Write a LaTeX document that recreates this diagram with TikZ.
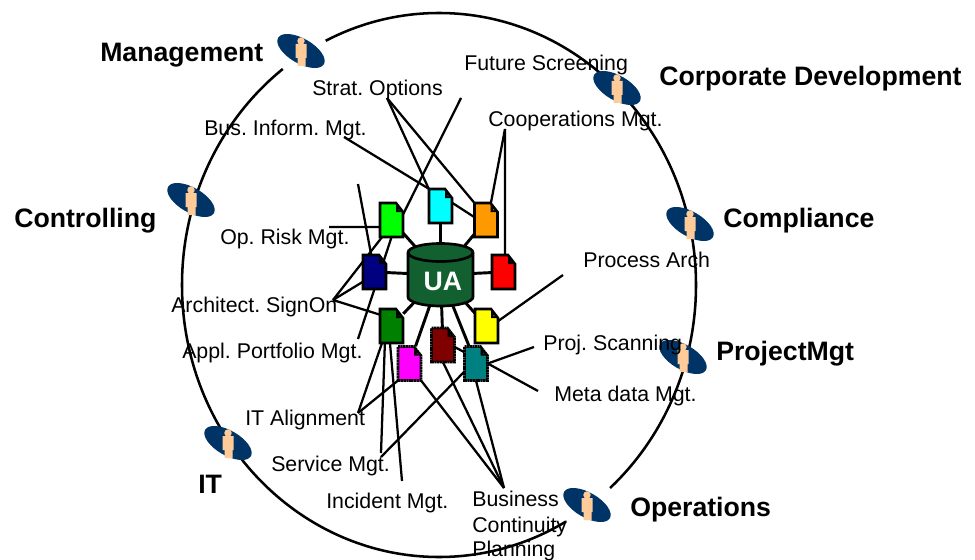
\documentclass[tikz,border=0pt]{standalone}
\usepackage{fontspec}
\setmainfont{Liberation Sans}
\usetikzlibrary{shapes.geometric}
\definecolor{iconblue}{RGB}{0,51,102}
\definecolor{skin}{RGB}{255,204,153}
\definecolor{dbgreen}{RGB}{18,96,48}
\definecolor{dlime}{RGB}{0,255,0}
\definecolor{dcyan}{RGB}{0,255,255}
\definecolor{dred}{RGB}{255,0,0}
\definecolor{dyellow}{RGB}{255,255,0}
\definecolor{dmagenta}{RGB}{255,0,255}
\definecolor{dorange}{RGB}{255,153,0}
\definecolor{dnavy}{RGB}{0,0,128}
\definecolor{dgreen}{RGB}{0,128,0}
\definecolor{dmaroon}{RGB}{128,0,0}
\definecolor{dteal}{RGB}{0,128,128}
\tikzset{
  ring/.style={line width=1.9pt,draw=black},
  halo/.style={fill=white,draw=none},
  iconshape/.style={ellipse,fill=iconblue,draw=none,minimum width=39.6pt,minimum height=18.6pt,inner sep=0pt,rotate=-30},
  docbase/.style={rectangle,draw=none,fill=none,minimum width=17.25pt,minimum height=25.5pt,inner sep=0pt},
  docline/.style={line width=1.9pt,draw=black,line join=miter},
  docdash/.style={docline,dash pattern=on 1.6pt off .35pt},
  hub/.style={line width=2.2pt,draw=black},
  link/.style={line width=1.7pt,draw=black},
  role/.style={anchor=base west,inner sep=0pt,font=\fontsize{20}{24}\selectfont\bfseries},
  lab/.style={anchor=base west,inner sep=0pt,font=\fontsize{16}{19.5}\selectfont},
  store/.style={line width=2pt,draw=black,fill=dbgreen},
  storetext/.style={inner sep=0pt,text=white,font=\fontsize{20}{24}\selectfont\bfseries}
}
\newcommand{\roleicon}[3]{%
  \node[iconshape] (#1) at (#2,#3) {};
  \begin{scope}[shift={(#1.center)}]
    \fill[skin] (0,-10) circle[radius=2.8pt];
    \fill[skin] (-5.5,-7) -- (5.5,-7) -- (5.5,7) -- (4.5,7) -- (4.5,15) -- (-3.5,15) -- (-3.5,7) -- (-5.5,7) -- cycle;
  \end{scope}}
\newcommand{\docplace}[3]{\node[docbase] (#1) at (#2,#3) {};}
\newcommand{\docdraw}[3][docline]{%
  \begin{scope}[shift={(#2.center)}]
    \path[fill=#3] (-11.5,-17) -- (4.5,-17) -- (11.5,-8) -- (11.5,17) -- (-11.5,17) -- cycle;
    \fill[black] (4.5,-17) -- (4.5,-8) -- (11.5,-8) -- cycle;
    \fill[#3] (7,-11) -- (7,-10) -- (8.6,-10) -- cycle;
    \draw[#1] (-11.5,-17) -- (4.5,-17) -- (11.5,-8) -- (11.5,17) -- (-11.5,17) -- cycle;
  \end{scope}}
\begin{document}
\frenchspacing
\begin{tikzpicture}[x=.75pt,y=-.75pt]
\useasboundingbox (0,0) rectangle (975,560);
% ring
\draw[ring] (439,285) ellipse[x radius=257,y radius=272];
\coordinate (gapm) at (304,54.5);
\coordinate (gapo) at (588.5,505.5);
\fill[halo] (gapm) circle[radius=19.2pt];
\fill[halo] (gapo) circle[radius=20.8pt];
% role icons
\roleicon{imgmt}{301}{51}
\roleicon{ifut}{617}{88}
\roleicon{icomp}{690}{224}
\roleicon{iproj}{683}{357}
\roleicon{iops}{587}{505}
\roleicon{iit}{228}{443}
\roleicon{ictrl}{191}{200}
% document places
\docplace{green}{391.5}{220}
\docplace{cyandoc}{440.5}{206}
\docplace{orange}{486}{220}
\docplace{navy}{374.5}{272}
\docplace{reddoc}{503.5}{272}
\docplace{dkgreen}{391.5}{326}
\docplace{yellowdoc}{486.5}{326}
\docplace{magentadoc}{409.5}{363.5}
\docplace{maroon}{443}{345}
\docplace{teal}{476}{363.5}
\coordinate (uac) at (440.5,275);
% free ends
\coordinate (estrat) at (387,98);
\coordinate (efut) at (461,98);
\coordinate (ebus) at (344,137);
\coordinate (ecoop) at (505,129);
\coordinate (eop) at (329,227);
\coordinate (eup) at (358,184);
\coordinate (earch) at (333,300);
\coordinate (eappl) at (358,339);
\coordinate (eital) at (358,413);
\coordinate (eserv) at (381,453);
\coordinate (eserb) at (381,457);
\coordinate (einc) at (402,481);
\coordinate (ebiz) at (504,488);
\coordinate (eproc) at (563,275);
\coordinate (eproj) at (534,347);
\coordinate (emeta) at (538,391);
% hub connectors
\foreach \d in {green,cyandoc,orange,navy,reddoc,dkgreen,yellowdoc,magentadoc,maroon,teal}
  \draw[hub] (uac) -- (\d);
% data store
\begin{scope}[shift={(uac)}]
  \draw[store] (-32.5,-22.5) -- (-32.5,22) arc[start angle=180,end angle=0,x radius=32.5,y radius=9] -- (32.5,-22.5) arc[start angle=0,end angle=-180,x radius=32.5,y radius=9] -- cycle;
  \draw[store,fill=none] (-32.5,-22.5) arc[start angle=180,end angle=0,x radius=32.5,y radius=9];
\end{scope}
\node[storetext] (ua) at (443,281) {UA};
% label connectors
\draw[link] (estrat) -- (cyandoc.north west);
\draw[link] (estrat) -- (orange.north west);
\draw[link] (efut) -- (green.27);
\draw[link] (ebus) -- (cyandoc.north west);
\draw[link] (ecoop) -- (orange.74);
\draw[link] (ecoop) -- (reddoc.85);
\draw[link] (cyandoc.15) -- (orange.166);
\draw[link] (eop) -- (green.211);
\draw[link] (eup) -- (navy.101);
\draw[link] (earch) -- (green.241);
\draw[link] (earch) -- (navy.220);
\draw[link] (earch) -- (dkgreen.136);
\draw[link] (eappl) -- (green.south);
\draw[link] (eital) -- (dkgreen.241);
\draw[link] (eital) -- (magentadoc.south west);
\draw[link] (eserv) -- (dkgreen.249);
\draw[link] (eserb) -- (teal.215);
\draw[link] (einc) -- (dkgreen.265);
\draw[link] (ebiz) -- (magentadoc.south east);
\draw[link] (ebiz) -- (maroon.south);
\draw[link] (ebiz) -- (teal.south);
\draw[link] (maroon.350) -- (teal.136);
\draw[link] (eproc) -- (yellowdoc.23);
\draw[link] (eproj) -- (teal.east);
\draw[link] (emeta) -- (teal.east);
% documents
\docdraw{green}{dlime}
\docdraw{cyandoc}{dcyan}
\docdraw{orange}{dorange}
\docdraw{navy}{dnavy}
\docdraw{reddoc}{dred}
\docdraw{dkgreen}{dgreen}
\docdraw{yellowdoc}{dyellow}
\docdraw[docdash]{magentadoc}{dmagenta}
\docdraw[docdash]{maroon}{dmaroon}
\docdraw[docdash]{teal}{dteal}
% role labels
\node[role] (tmgmt) at (100,62) {Management};
\node[role] (tcorp) at (659,85) {Corporate Development};
\node[role] (tcomp) at (723,227) {Compliance};
\node[role] (tctrl) at (14,227) {Controlling};
\node[role] (tproj) at (716,360) {ProjectMgt};
\node[role] (tit) at (198,493) {IT};
\node[role] (tops) at (630,516) {Operations};
% document labels
\node[lab] (lfut) at (464,70) {Future Screening};
\node[lab] (lstrat) at (312,96) {Strat. Options};
\node[lab] (lcoop) at (488,127) {Cooperations Mgt.};
\node[lab] (lbus) at (204,135) {Bus. Inform. Mgt.};
\node[lab] (lop) at (220,244) {Op. Risk Mgt.};
\node[lab] (larch) at (171,312) {Architect. SignOn};
\node[lab] (lappl) at (182,358) {Appl. Portfolio Mgt.};
\node[lab] (lproc) at (583,267) {Process Arch};
\node[lab] (lproj) at (543,350) {Proj. Scanning};
\node[lab] (lmeta) at (554,401) {Meta data Mgt.};
\node[lab] (lital) at (245,425) {IT Alignment};
\node[lab] (lserv) at (271,471) {Service Mgt.};
\node[lab] (linc) at (326,508) {Incident Mgt.};
\node[lab] (lbiz1) at (472,506) {Business};
\node[lab] (lbiz2) at (472,532) {Continuity};
\node[lab] (lbiz3) at (472,556) {Planning};
\end{tikzpicture}
\end{document}
